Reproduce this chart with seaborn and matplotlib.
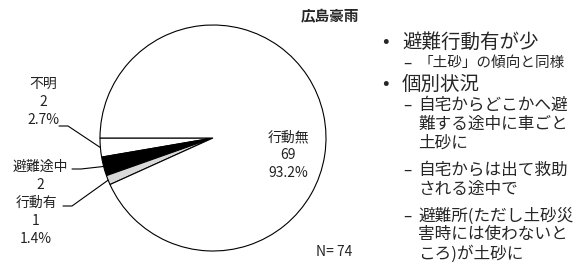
# pie chart of evacuation behaviour (広島豪雨) with notes on the right

import numpy as np
import matplotlib.pyplot as plt
import seaborn as sns

# data
categories = ["不明", "避難途中", "行動有", "行動無"]
counts = [2, 2, 1, 69]
show_pct = [True, False, True, True]
slice_colors = ["white", "black", "#d9d9d9", "white"]

title = "広島豪雨"
n_label = "N= 74"

bullets = [
    ("避難行動有が少", [["「土砂」の傾向と同様"]]),
    ("個別状況", [
        ["自宅からどこかへ避", "難する途中に車ごと", "土砂に"],
        ["自宅からは出て救助", "される途中で"],
        ["避難所(ただし土砂災", "害時には使わないと", "ころ)が土砂に"],
    ]),
]

sns.set_theme(style="white")
plt.rcParams["font.family"] = ["Noto Sans CJK JP", "DejaVu Sans"]

W, H = 580, 276
fig = plt.figure(figsize=(W / 100, H / 100), dpi=100)
ax = fig.add_axes([0, 0, 1, 1])


def py(y):
    # pixel row (top = 0) to data y
    return H - y


cx, cy, r = 213, 138, 113
start = 180
ax.pie(counts, colors=slice_colors, startangle=start, counterclock=True,
       center=(cx, py(cy)), radius=r, frame=True,
       wedgeprops=dict(edgecolor="black", linewidth=0.8))
ax.set_xlim(0, W)
ax.set_ylim(0, H)
ax.set_aspect("equal")
ax.axis("off")

total = sum(counts)
fracs = np.array(counts) / total
ends = start + np.cumsum(fracs) * 360
mids = ends - fracs * 180

# label placement (layout only): center x, first line y, leader start (x, y)
label_pos = {
    "不明": (43, 84, (59, 126)),
    "避難途中": (40, 167, (72, 169)),
    "行動有": (36, 203, (63, 206)),
    "行動無": (288, 137, None),
}
fs = 10
for cat, c, show, mid in zip(categories, counts, show_pct, mids):
    lx, ly, lead = label_pos[cat]
    lines = [cat, str(c)]
    if show:
        lines.append(f"{c / total * 100:.1f}%")
    for i, t in enumerate(lines):
        ax.text(lx, py(ly + i * 18), t, ha="center", va="center",
                fontsize=fs, color="#222222")
    if lead is not None:
        ex = cx + r * np.cos(np.radians(mid))
        ey = py(cy) + r * np.sin(np.radians(mid))
        sx, sy = lead
        ax.plot([sx, sx + 9, ex], [py(sy), py(sy), ey],
                color="black", linewidth=0.8)

ax.text(330, py(16), title, ha="center", va="center",
        fontsize=10.5, fontweight="bold")
ax.text(334, py(252), n_label, ha="center", va="center", fontsize=10)

# right-hand notes
y = 42
for b, (head, subs) in enumerate(bullets):
    ax.text(385, py(y), "•", ha="center", va="center", fontsize=14)
    ax.text(402, py(y), head, ha="left", va="center", fontsize=14)
    y += 21
    sub_fs = 10.5 if b == 0 else 12
    for k, sub in enumerate(subs):
        ax.text(407, py(y), "–", ha="center", va="center", fontsize=11)
        for line in sub:
            ax.text(418, py(y), line, ha="left", va="center", fontsize=sub_fs)
            y += 19
        if k < len(subs) - 1:
            y += 8
    y += 2

fig.savefig("out.png", dpi=100)
